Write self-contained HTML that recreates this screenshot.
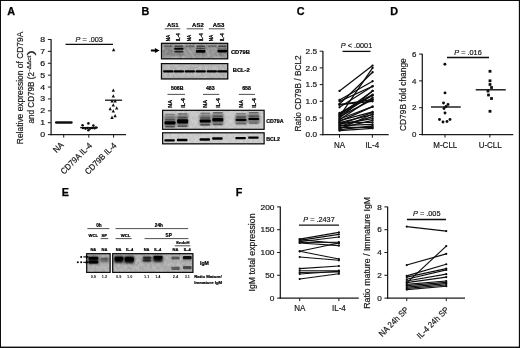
<!DOCTYPE html>
<html><head><meta charset="utf-8"><title>Figure</title>
<style>
html,body{margin:0;padding:0;background:#fff;}
body{width:520px;height:348px;overflow:hidden;position:relative;font-family:"Liberation Sans", sans-serif;}
svg{position:absolute;left:0;top:0;display:block;}
svg text{font-family:"Liberation Sans", sans-serif;}
svg text.g{stroke:#222;stroke-width:0.2px;}
svg text.b{stroke:#000;stroke-width:0.22px;}
</style></head><body>
<svg width="520" height="348" viewBox="0 0 520 348">
<defs>
<filter id="b1" x="-30%" y="-100%" width="160%" height="300%"><feGaussianBlur stdDeviation="0.65 0.5"/></filter>
<filter id="b2" x="-30%" y="-100%" width="160%" height="300%"><feGaussianBlur stdDeviation="1.3 1.1"/></filter>
<filter id="nz" x="0" y="0" width="100%" height="100%"><feTurbulence type="fractalNoise" baseFrequency="0.4 0.3" numOctaves="2" seed="7" result="t"/><feColorMatrix in="t" type="matrix" values="0 0 0 0 0  0 0 0 0 0  0 0 0 0 0  1.8 0 0 0 -0.45"/></filter>
<filter id="b3" x="-30%" y="-100%" width="160%" height="300%"><feGaussianBlur stdDeviation="0.7 0.75"/></filter>
<filter id="soft"><feGaussianBlur stdDeviation="0.38"/></filter>
<clipPath id="cb1"><rect x="160.9" y="42.7" width="67.4" height="16.7"/></clipPath><clipPath id="ce1"><rect x="86.1" y="253.1" width="24.6" height="19.9"/></clipPath><clipPath id="ce2"><rect x="112.1" y="253.1" width="81.4" height="19.9"/></clipPath><clipPath id="cb3"><rect x="162" y="109.7" width="102.7" height="20.2"/></clipPath>
</defs>
<rect x="0" y="0" width="520" height="348" fill="#fff"/>
<g filter="url(#soft)">
<text transform="translate(7.2 15.0)" font-size="10.8" text-anchor="start" font-weight="bold" font-style="normal" fill="#000" stroke="#000" stroke-width="0.25">A</text>
<text transform="translate(141.4 15.0)" font-size="10.8" text-anchor="start" font-weight="bold" font-style="normal" fill="#000" stroke="#000" stroke-width="0.25">B</text>
<text transform="translate(296.8 15.0)" font-size="10.8" text-anchor="start" font-weight="bold" font-style="normal" fill="#000" stroke="#000" stroke-width="0.25">C</text>
<text transform="translate(390.2 15.0)" font-size="10.8" text-anchor="start" font-weight="bold" font-style="normal" fill="#000" stroke="#000" stroke-width="0.25">D</text>
<text transform="translate(61.8 195.9)" font-size="10.8" text-anchor="start" font-weight="bold" font-style="normal" fill="#000" stroke="#000" stroke-width="0.25">E</text>
<text transform="translate(235.7 195.9)" font-size="10.8" text-anchor="start" font-weight="bold" font-style="normal" fill="#000" stroke="#000" stroke-width="0.25">F</text>
<line x1="51.1" y1="39.17999999999999" x2="51.1" y2="135.225" stroke="#1a1a1a" stroke-width="1.25" stroke-linecap="butt"/>
<line x1="50.475" y1="134.6" x2="126" y2="134.6" stroke="#1a1a1a" stroke-width="1.25" stroke-linecap="butt"/>
<line x1="47.9" y1="134.6" x2="51.1" y2="134.6" stroke="#1a1a1a" stroke-width="1.0" stroke-linecap="butt"/>
<text class="g" transform="translate(45.2 137.15) scale(1.17 1)" font-size="7.5" text-anchor="end" font-weight="normal" font-style="normal" fill="#111">0</text>
<line x1="47.9" y1="122.71" x2="51.1" y2="122.71" stroke="#1a1a1a" stroke-width="1.0" stroke-linecap="butt"/>
<text class="g" transform="translate(45.2 125.25999999999999) scale(1.17 1)" font-size="7.5" text-anchor="end" font-weight="normal" font-style="normal" fill="#111">1</text>
<line x1="47.9" y1="110.82" x2="51.1" y2="110.82" stroke="#1a1a1a" stroke-width="1.0" stroke-linecap="butt"/>
<text class="g" transform="translate(45.2 113.36999999999999) scale(1.17 1)" font-size="7.5" text-anchor="end" font-weight="normal" font-style="normal" fill="#111">2</text>
<line x1="47.9" y1="98.92999999999999" x2="51.1" y2="98.92999999999999" stroke="#1a1a1a" stroke-width="1.0" stroke-linecap="butt"/>
<text class="g" transform="translate(45.2 101.47999999999999) scale(1.17 1)" font-size="7.5" text-anchor="end" font-weight="normal" font-style="normal" fill="#111">3</text>
<line x1="47.9" y1="87.03999999999999" x2="51.1" y2="87.03999999999999" stroke="#1a1a1a" stroke-width="1.0" stroke-linecap="butt"/>
<text class="g" transform="translate(45.2 89.58999999999999) scale(1.17 1)" font-size="7.5" text-anchor="end" font-weight="normal" font-style="normal" fill="#111">4</text>
<line x1="47.9" y1="75.14999999999999" x2="51.1" y2="75.14999999999999" stroke="#1a1a1a" stroke-width="1.0" stroke-linecap="butt"/>
<text class="g" transform="translate(45.2 77.69999999999999) scale(1.17 1)" font-size="7.5" text-anchor="end" font-weight="normal" font-style="normal" fill="#111">5</text>
<line x1="47.9" y1="63.25999999999999" x2="51.1" y2="63.25999999999999" stroke="#1a1a1a" stroke-width="1.0" stroke-linecap="butt"/>
<text class="g" transform="translate(45.2 65.80999999999999) scale(1.17 1)" font-size="7.5" text-anchor="end" font-weight="normal" font-style="normal" fill="#111">6</text>
<line x1="47.9" y1="51.36999999999999" x2="51.1" y2="51.36999999999999" stroke="#1a1a1a" stroke-width="1.0" stroke-linecap="butt"/>
<text class="g" transform="translate(45.2 53.91999999999999) scale(1.17 1)" font-size="7.5" text-anchor="end" font-weight="normal" font-style="normal" fill="#111">7</text>
<line x1="47.9" y1="39.47999999999999" x2="51.1" y2="39.47999999999999" stroke="#1a1a1a" stroke-width="1.0" stroke-linecap="butt"/>
<text class="g" transform="translate(45.2 42.02999999999999) scale(1.17 1)" font-size="7.5" text-anchor="end" font-weight="normal" font-style="normal" fill="#111">8</text>
<line x1="63.7" y1="134.6" x2="63.7" y2="137.6" stroke="#1a1a1a" stroke-width="1.0" stroke-linecap="butt"/>
<line x1="88.8" y1="134.6" x2="88.8" y2="137.6" stroke="#1a1a1a" stroke-width="1.0" stroke-linecap="butt"/>
<line x1="113.6" y1="134.6" x2="113.6" y2="137.6" stroke="#1a1a1a" stroke-width="1.0" stroke-linecap="butt"/>
<text class="g" x="23.5" y="144.2" font-size="9.3" font-weight="normal" fill="#111" textLength="112.6" lengthAdjust="spacingAndGlyphs" transform="rotate(-90 23.5 144.2)">Relative expression of CD79A</text>
<text class="g" x="34.4" y="123.4" font-size="8.6" font-weight="normal" fill="#111" textLength="51.4" lengthAdjust="spacingAndGlyphs" transform="rotate(-90 34.4 123.4)">and CD79B (2</text>
<text class="g" x="31.1" y="71.5" font-size="4.8" font-weight="normal" fill="#111" textLength="15.7" lengthAdjust="spacingAndGlyphs" transform="rotate(-90 31.1 71.5)">-ΔΔct</text>
<text class="g" x="34.4" y="55.6" font-size="8.4" font-weight="normal" fill="#111" textLength="5.4" lengthAdjust="spacingAndGlyphs" transform="rotate(-90 34.4 55.6)">)</text>
<text class="g" transform="translate(64.3 145.6) rotate(-45) scale(0.92 1)" font-size="8.5" text-anchor="end" font-weight="normal" font-style="normal" fill="#111">NA</text>
<text class="g" transform="translate(92.6 146.1) rotate(-45) scale(0.92 1)" font-size="8.5" text-anchor="end" font-weight="normal" font-style="normal" fill="#111">CD79A IL-4</text>
<text class="g" transform="translate(117.1 146.1) rotate(-45) scale(0.92 1)" font-size="8.5" text-anchor="end" font-weight="normal" font-style="normal" fill="#111">CD79B IL-4</text>
<line x1="56.2" y1="122.6" x2="71.4" y2="122.6" stroke="#111" stroke-width="2.5" stroke-linecap="round"/>
<line x1="80.2" y1="127.6" x2="97.8" y2="127.6" stroke="#111" stroke-width="1.3" stroke-linecap="butt"/>
<circle cx="88.4" cy="123.4" r="1.3" fill="#111"/>
<circle cx="82.6" cy="125.3" r="1.3" fill="#111"/>
<circle cx="93.4" cy="125.6" r="1.3" fill="#111"/>
<circle cx="83" cy="128" r="1.3" fill="#111"/>
<circle cx="85.5" cy="128.6" r="1.3" fill="#111"/>
<circle cx="87.5" cy="128" r="1.3" fill="#111"/>
<circle cx="90" cy="128.6" r="1.3" fill="#111"/>
<circle cx="92" cy="128" r="1.3" fill="#111"/>
<circle cx="94.5" cy="128.3" r="1.3" fill="#111"/>
<circle cx="96" cy="127.6" r="1.3" fill="#111"/>
<circle cx="88.4" cy="130.3" r="1.3" fill="#111"/>
<line x1="105" y1="100.2" x2="122.1" y2="100.2" stroke="#111" stroke-width="1.3" stroke-linecap="butt"/>
<polygon points="113.6,48.02 111.94999999999999,51.32 115.25,51.32" fill="#111"/>
<polygon points="113.3,88.42 111.64999999999999,91.72 114.95,91.72" fill="#111"/>
<polygon points="113.3,94.22 111.64999999999999,97.52 114.95,97.52" fill="#111"/>
<polygon points="112,99.32 110.35,102.61999999999999 113.65,102.61999999999999" fill="#111"/>
<polygon points="115.1,99.32 113.44999999999999,102.61999999999999 116.75,102.61999999999999" fill="#111"/>
<polygon points="113.3,103.22 111.64999999999999,106.52 114.95,106.52" fill="#111"/>
<polygon points="110.2,107.02 108.55,110.32 111.85000000000001,110.32" fill="#111"/>
<polygon points="116.7,106.32 115.05,109.61999999999999 118.35000000000001,109.61999999999999" fill="#111"/>
<polygon points="113.3,109.22 111.64999999999999,112.52 114.95,112.52" fill="#111"/>
<polygon points="115.1,114.02 113.44999999999999,117.32 116.75,117.32" fill="#111"/>
<polygon points="112,115.61999999999999 110.35,118.91999999999999 113.65,118.91999999999999" fill="#111"/>
<text class="g" transform="translate(89.2 41.8)" font-size="7.3" text-anchor="middle" font-weight="normal" font-style="normal" fill="#111"><tspan font-style="italic">P</tspan> = .003</text>
<line x1="65.5" y1="44.4" x2="113" y2="44.4" stroke="#111" stroke-width="1.3" stroke-linecap="butt"/>
<line x1="322.9" y1="50.89999999999999" x2="322.9" y2="135.325" stroke="#1a1a1a" stroke-width="1.25" stroke-linecap="butt"/>
<line x1="322.275" y1="134.7" x2="388.7" y2="134.7" stroke="#1a1a1a" stroke-width="1.25" stroke-linecap="butt"/>
<line x1="319.7" y1="134.7" x2="322.9" y2="134.7" stroke="#1a1a1a" stroke-width="1.0" stroke-linecap="butt"/>
<text class="g" transform="translate(317.0 137.31799999999998) scale(1.07 1)" font-size="7.7" text-anchor="end" font-weight="normal" font-style="normal" fill="#111">0.0</text>
<line x1="319.7" y1="117.99999999999999" x2="322.9" y2="117.99999999999999" stroke="#1a1a1a" stroke-width="1.0" stroke-linecap="butt"/>
<text class="g" transform="translate(317.0 120.61799999999998) scale(1.07 1)" font-size="7.7" text-anchor="end" font-weight="normal" font-style="normal" fill="#111">0.5</text>
<line x1="319.7" y1="101.29999999999998" x2="322.9" y2="101.29999999999998" stroke="#1a1a1a" stroke-width="1.0" stroke-linecap="butt"/>
<text class="g" transform="translate(317.0 103.91799999999998) scale(1.07 1)" font-size="7.7" text-anchor="end" font-weight="normal" font-style="normal" fill="#111">1.0</text>
<line x1="319.7" y1="84.6" x2="322.9" y2="84.6" stroke="#1a1a1a" stroke-width="1.0" stroke-linecap="butt"/>
<text class="g" transform="translate(317.0 87.21799999999999) scale(1.07 1)" font-size="7.7" text-anchor="end" font-weight="normal" font-style="normal" fill="#111">1.5</text>
<line x1="319.7" y1="67.89999999999999" x2="322.9" y2="67.89999999999999" stroke="#1a1a1a" stroke-width="1.0" stroke-linecap="butt"/>
<text class="g" transform="translate(317.0 70.51799999999999) scale(1.07 1)" font-size="7.7" text-anchor="end" font-weight="normal" font-style="normal" fill="#111">2.0</text>
<line x1="319.7" y1="51.19999999999999" x2="322.9" y2="51.19999999999999" stroke="#1a1a1a" stroke-width="1.0" stroke-linecap="butt"/>
<text class="g" transform="translate(317.0 53.81799999999999) scale(1.07 1)" font-size="7.7" text-anchor="end" font-weight="normal" font-style="normal" fill="#111">2.5</text>
<line x1="339.5" y1="134.7" x2="339.5" y2="137.7" stroke="#1a1a1a" stroke-width="1.0" stroke-linecap="butt"/>
<line x1="372.4" y1="134.7" x2="372.4" y2="137.7" stroke="#1a1a1a" stroke-width="1.0" stroke-linecap="butt"/>
<text class="g" transform="translate(339.6 148.4) scale(0.91 1)" font-size="8.8" text-anchor="middle" font-weight="normal" font-style="normal" fill="#111">NA</text>
<text class="g" transform="translate(372.3 148.4) scale(0.91 1)" font-size="8.8" text-anchor="middle" font-weight="normal" font-style="normal" fill="#111">IL-4</text>
<text class="g" x="300.5" y="131.5" font-size="9.2" font-weight="normal" fill="#111" textLength="76.2" lengthAdjust="spacingAndGlyphs" transform="rotate(-90 300.5 131.5)">Ratio CD79B / BCL2</text>
<line x1="339.5" y1="90.946" x2="372.6" y2="65.562" stroke="#111" stroke-width="1.3" stroke-linecap="round"/>
<circle cx="339.5" cy="90.946" r="1.15" fill="#111"/>
<circle cx="372.6" cy="65.562" r="1.15" fill="#111"/>
<line x1="339.5" y1="116.32999999999998" x2="372.6" y2="67.89999999999999" stroke="#111" stroke-width="1.3" stroke-linecap="round"/>
<circle cx="339.5" cy="116.32999999999998" r="1.15" fill="#111"/>
<circle cx="372.6" cy="67.89999999999999" r="1.15" fill="#111"/>
<line x1="339.5" y1="103.97199999999998" x2="372.6" y2="72.24199999999999" stroke="#111" stroke-width="1.3" stroke-linecap="round"/>
<circle cx="339.5" cy="103.97199999999998" r="1.15" fill="#111"/>
<circle cx="372.6" cy="72.24199999999999" r="1.15" fill="#111"/>
<line x1="339.5" y1="99.964" x2="372.6" y2="81.25999999999999" stroke="#111" stroke-width="1.3" stroke-linecap="round"/>
<circle cx="339.5" cy="99.964" r="1.15" fill="#111"/>
<circle cx="372.6" cy="81.25999999999999" r="1.15" fill="#111"/>
<line x1="339.5" y1="107.31199999999998" x2="372.6" y2="86.26999999999998" stroke="#111" stroke-width="1.3" stroke-linecap="round"/>
<circle cx="339.5" cy="107.31199999999998" r="1.15" fill="#111"/>
<circle cx="372.6" cy="86.26999999999998" r="1.15" fill="#111"/>
<line x1="339.5" y1="114.66" x2="372.6" y2="90.946" stroke="#111" stroke-width="1.3" stroke-linecap="round"/>
<circle cx="339.5" cy="114.66" r="1.15" fill="#111"/>
<circle cx="372.6" cy="90.946" r="1.15" fill="#111"/>
<line x1="339.5" y1="117.99999999999999" x2="372.6" y2="90.946" stroke="#111" stroke-width="1.3" stroke-linecap="round"/>
<circle cx="339.5" cy="117.99999999999999" r="1.15" fill="#111"/>
<circle cx="372.6" cy="90.946" r="1.15" fill="#111"/>
<line x1="339.5" y1="113.65799999999999" x2="372.6" y2="95.28799999999998" stroke="#111" stroke-width="1.3" stroke-linecap="round"/>
<circle cx="339.5" cy="113.65799999999999" r="1.15" fill="#111"/>
<circle cx="372.6" cy="95.28799999999998" r="1.15" fill="#111"/>
<line x1="339.5" y1="104.63999999999999" x2="372.6" y2="101.29999999999998" stroke="#111" stroke-width="1.3" stroke-linecap="round"/>
<circle cx="339.5" cy="104.63999999999999" r="1.15" fill="#111"/>
<circle cx="372.6" cy="101.29999999999998" r="1.15" fill="#111"/>
<line x1="339.5" y1="119.66999999999999" x2="372.6" y2="97.62599999999998" stroke="#111" stroke-width="1.3" stroke-linecap="round"/>
<circle cx="339.5" cy="119.66999999999999" r="1.15" fill="#111"/>
<circle cx="372.6" cy="97.62599999999998" r="1.15" fill="#111"/>
<line x1="339.5" y1="104.63999999999999" x2="372.6" y2="99.63" stroke="#111" stroke-width="1.3" stroke-linecap="round"/>
<circle cx="339.5" cy="104.63999999999999" r="1.15" fill="#111"/>
<circle cx="372.6" cy="99.63" r="1.15" fill="#111"/>
<line x1="339.5" y1="121.33999999999999" x2="372.6" y2="106.64399999999999" stroke="#111" stroke-width="1.3" stroke-linecap="round"/>
<circle cx="339.5" cy="121.33999999999999" r="1.15" fill="#111"/>
<circle cx="372.6" cy="106.64399999999999" r="1.15" fill="#111"/>
<line x1="339.5" y1="124.67999999999999" x2="372.6" y2="112.32199999999999" stroke="#111" stroke-width="1.3" stroke-linecap="round"/>
<circle cx="339.5" cy="124.67999999999999" r="1.15" fill="#111"/>
<circle cx="372.6" cy="112.32199999999999" r="1.15" fill="#111"/>
<line x1="339.5" y1="122.67599999999999" x2="372.6" y2="114.66" stroke="#111" stroke-width="1.3" stroke-linecap="round"/>
<circle cx="339.5" cy="122.67599999999999" r="1.15" fill="#111"/>
<circle cx="372.6" cy="114.66" r="1.15" fill="#111"/>
<line x1="339.5" y1="126.35" x2="372.6" y2="116.66399999999999" stroke="#111" stroke-width="1.3" stroke-linecap="round"/>
<circle cx="339.5" cy="126.35" r="1.15" fill="#111"/>
<circle cx="372.6" cy="116.66399999999999" r="1.15" fill="#111"/>
<line x1="339.5" y1="124.01199999999999" x2="372.6" y2="118.66799999999999" stroke="#111" stroke-width="1.3" stroke-linecap="round"/>
<circle cx="339.5" cy="124.01199999999999" r="1.15" fill="#111"/>
<circle cx="372.6" cy="118.66799999999999" r="1.15" fill="#111"/>
<line x1="339.5" y1="128.01999999999998" x2="372.6" y2="120.338" stroke="#111" stroke-width="1.3" stroke-linecap="round"/>
<circle cx="339.5" cy="128.01999999999998" r="1.15" fill="#111"/>
<circle cx="372.6" cy="120.338" r="1.15" fill="#111"/>
<line x1="339.5" y1="122.67599999999999" x2="372.6" y2="122.34199999999998" stroke="#111" stroke-width="1.3" stroke-linecap="round"/>
<circle cx="339.5" cy="122.67599999999999" r="1.15" fill="#111"/>
<circle cx="372.6" cy="122.34199999999998" r="1.15" fill="#111"/>
<line x1="339.5" y1="125.68199999999999" x2="372.6" y2="124.34599999999999" stroke="#111" stroke-width="1.3" stroke-linecap="round"/>
<circle cx="339.5" cy="125.68199999999999" r="1.15" fill="#111"/>
<circle cx="372.6" cy="124.34599999999999" r="1.15" fill="#111"/>
<line x1="339.5" y1="129.69" x2="372.6" y2="126.01599999999999" stroke="#111" stroke-width="1.3" stroke-linecap="round"/>
<circle cx="339.5" cy="129.69" r="1.15" fill="#111"/>
<circle cx="372.6" cy="126.01599999999999" r="1.15" fill="#111"/>
<line x1="339.5" y1="127.35199999999999" x2="372.6" y2="127.35199999999999" stroke="#111" stroke-width="1.3" stroke-linecap="round"/>
<circle cx="339.5" cy="127.35199999999999" r="1.15" fill="#111"/>
<circle cx="372.6" cy="127.35199999999999" r="1.15" fill="#111"/>
<line x1="339.5" y1="130.69199999999998" x2="372.6" y2="128.35399999999998" stroke="#111" stroke-width="1.3" stroke-linecap="round"/>
<circle cx="339.5" cy="130.69199999999998" r="1.15" fill="#111"/>
<circle cx="372.6" cy="128.35399999999998" r="1.15" fill="#111"/>
<line x1="339.5" y1="112.98999999999998" x2="372.6" y2="94.61999999999999" stroke="#111" stroke-width="1.3" stroke-linecap="round"/>
<circle cx="339.5" cy="112.98999999999998" r="1.15" fill="#111"/>
<circle cx="372.6" cy="94.61999999999999" r="1.15" fill="#111"/>
<line x1="339.5" y1="101.29999999999998" x2="372.6" y2="86.26999999999998" stroke="#111" stroke-width="1.3" stroke-linecap="round"/>
<circle cx="339.5" cy="101.29999999999998" r="1.15" fill="#111"/>
<circle cx="372.6" cy="86.26999999999998" r="1.15" fill="#111"/>
<line x1="339.5" y1="129.022" x2="372.6" y2="113.99199999999999" stroke="#111" stroke-width="1.3" stroke-linecap="round"/>
<circle cx="339.5" cy="129.022" r="1.15" fill="#111"/>
<circle cx="372.6" cy="113.99199999999999" r="1.15" fill="#111"/>
<line x1="339.5" y1="120.672" x2="372.6" y2="111.98799999999999" stroke="#111" stroke-width="1.3" stroke-linecap="round"/>
<circle cx="339.5" cy="120.672" r="1.15" fill="#111"/>
<circle cx="372.6" cy="111.98799999999999" r="1.15" fill="#111"/>
<line x1="339.5" y1="116.66399999999999" x2="372.6" y2="99.63" stroke="#111" stroke-width="1.3" stroke-linecap="round"/>
<circle cx="339.5" cy="116.66399999999999" r="1.15" fill="#111"/>
<circle cx="372.6" cy="99.63" r="1.15" fill="#111"/>
<line x1="339.5" y1="115.32799999999999" x2="372.6" y2="95.28799999999998" stroke="#111" stroke-width="1.3" stroke-linecap="round"/>
<circle cx="339.5" cy="115.32799999999999" r="1.15" fill="#111"/>
<circle cx="372.6" cy="95.28799999999998" r="1.15" fill="#111"/>
<line x1="339.5" y1="119.002" x2="372.6" y2="106.64399999999999" stroke="#111" stroke-width="1.3" stroke-linecap="round"/>
<circle cx="339.5" cy="119.002" r="1.15" fill="#111"/>
<circle cx="372.6" cy="106.64399999999999" r="1.15" fill="#111"/>
<text class="g" transform="translate(356.5 48.3)" font-size="7.3" text-anchor="middle" font-weight="normal" font-style="normal" fill="#111"><tspan font-style="italic">P</tspan> &lt; .0001</text>
<line x1="342.5" y1="51.4" x2="370.5" y2="51.4" stroke="#111" stroke-width="1.3" stroke-linecap="butt"/>
<line x1="422.3" y1="53.8" x2="422.3" y2="135.125" stroke="#1a1a1a" stroke-width="1.25" stroke-linecap="butt"/>
<line x1="421.675" y1="134.5" x2="513.3" y2="134.5" stroke="#1a1a1a" stroke-width="1.25" stroke-linecap="butt"/>
<line x1="419.1" y1="134.5" x2="422.3" y2="134.5" stroke="#1a1a1a" stroke-width="1.0" stroke-linecap="butt"/>
<text class="g" transform="translate(416.40000000000003 137.254) scale(0.98 1)" font-size="8.1" text-anchor="end" font-weight="normal" font-style="normal" fill="#111">0</text>
<line x1="419.1" y1="107.7" x2="422.3" y2="107.7" stroke="#1a1a1a" stroke-width="1.0" stroke-linecap="butt"/>
<text class="g" transform="translate(416.40000000000003 110.45400000000001) scale(0.98 1)" font-size="8.1" text-anchor="end" font-weight="normal" font-style="normal" fill="#111">2</text>
<line x1="419.1" y1="80.9" x2="422.3" y2="80.9" stroke="#1a1a1a" stroke-width="1.0" stroke-linecap="butt"/>
<text class="g" transform="translate(416.40000000000003 83.65400000000001) scale(0.98 1)" font-size="8.1" text-anchor="end" font-weight="normal" font-style="normal" fill="#111">4</text>
<line x1="419.1" y1="54.099999999999994" x2="422.3" y2="54.099999999999994" stroke="#1a1a1a" stroke-width="1.0" stroke-linecap="butt"/>
<text class="g" transform="translate(416.40000000000003 56.85399999999999) scale(0.98 1)" font-size="8.1" text-anchor="end" font-weight="normal" font-style="normal" fill="#111">6</text>
<line x1="445" y1="134.5" x2="445" y2="137.5" stroke="#1a1a1a" stroke-width="1.0" stroke-linecap="butt"/>
<line x1="489.9" y1="134.5" x2="489.9" y2="137.5" stroke="#1a1a1a" stroke-width="1.0" stroke-linecap="butt"/>
<text class="g" transform="translate(445.3 148.3) scale(0.9 1)" font-size="8.9" text-anchor="middle" font-weight="normal" font-style="normal" fill="#111">M-CLL</text>
<text class="g" transform="translate(490.2 148.3) scale(0.9 1)" font-size="8.9" text-anchor="middle" font-weight="normal" font-style="normal" fill="#111">U-CLL</text>
<text class="g" x="405.8" y="131.1" font-size="9.1" font-weight="normal" fill="#111" textLength="72.9" lengthAdjust="spacingAndGlyphs" transform="rotate(-90 405.8 131.1)">CD79B fold change</text>
<line x1="431" y1="107" x2="460.75" y2="107" stroke="#111" stroke-width="1.4" stroke-linecap="butt"/>
<line x1="475.75" y1="89.8" x2="505.75" y2="89.8" stroke="#111" stroke-width="1.4" stroke-linecap="butt"/>
<circle cx="444.9" cy="64.2" r="1.45" fill="#111"/>
<circle cx="445" cy="92.9" r="1.45" fill="#111"/>
<circle cx="443.5" cy="103" r="1.45" fill="#111"/>
<circle cx="448" cy="104.5" r="1.45" fill="#111"/>
<circle cx="446" cy="106.5" r="1.45" fill="#111"/>
<circle cx="444" cy="108.5" r="1.45" fill="#111"/>
<circle cx="445" cy="113" r="1.45" fill="#111"/>
<circle cx="439.5" cy="119.5" r="1.45" fill="#111"/>
<circle cx="450" cy="119.5" r="1.45" fill="#111"/>
<circle cx="443" cy="122" r="1.45" fill="#111"/>
<circle cx="447" cy="121.5" r="1.45" fill="#111"/>
<rect x="488.6" y="69.89999999999999" width="2.8" height="2.8" fill="#111"/>
<rect x="488.6" y="79.39999999999999" width="2.8" height="2.8" fill="#111"/>
<rect x="488.6" y="83.1" width="2.8" height="2.8" fill="#111"/>
<rect x="490.1" y="86.1" width="2.8" height="2.8" fill="#111"/>
<rect x="486.6" y="89.6" width="2.8" height="2.8" fill="#111"/>
<rect x="487.1" y="93.6" width="2.8" height="2.8" fill="#111"/>
<rect x="490.1" y="97.1" width="2.8" height="2.8" fill="#111"/>
<rect x="488.6" y="109.89999999999999" width="2.8" height="2.8" fill="#111"/>
<text class="g" transform="translate(468 54.6)" font-size="7.3" text-anchor="middle" font-weight="normal" font-style="normal" fill="#111"><tspan font-style="italic">P</tspan> = .016</text>
<line x1="447" y1="57.5" x2="489" y2="57.5" stroke="#111" stroke-width="1.3" stroke-linecap="butt"/>
<line x1="280.3" y1="206.60000000000002" x2="280.3" y2="298.725" stroke="#1a1a1a" stroke-width="1.25" stroke-linecap="butt"/>
<line x1="279.675" y1="298.1" x2="358.75" y2="298.1" stroke="#1a1a1a" stroke-width="1.25" stroke-linecap="butt"/>
<line x1="277.1" y1="298.1" x2="280.3" y2="298.1" stroke="#1a1a1a" stroke-width="1.0" stroke-linecap="butt"/>
<text class="g" transform="translate(274.40000000000003 300.752) scale(1.07 1)" font-size="7.8" text-anchor="end" font-weight="normal" font-style="normal" fill="#111">0</text>
<line x1="277.1" y1="275.3" x2="280.3" y2="275.3" stroke="#1a1a1a" stroke-width="1.0" stroke-linecap="butt"/>
<text class="g" transform="translate(274.40000000000003 277.952) scale(1.07 1)" font-size="7.8" text-anchor="end" font-weight="normal" font-style="normal" fill="#111">50</text>
<line x1="277.1" y1="252.50000000000003" x2="280.3" y2="252.50000000000003" stroke="#1a1a1a" stroke-width="1.0" stroke-linecap="butt"/>
<text class="g" transform="translate(274.40000000000003 255.15200000000002) scale(1.07 1)" font-size="7.8" text-anchor="end" font-weight="normal" font-style="normal" fill="#111">100</text>
<line x1="277.1" y1="229.70000000000002" x2="280.3" y2="229.70000000000002" stroke="#1a1a1a" stroke-width="1.0" stroke-linecap="butt"/>
<text class="g" transform="translate(274.40000000000003 232.352) scale(1.07 1)" font-size="7.8" text-anchor="end" font-weight="normal" font-style="normal" fill="#111">150</text>
<line x1="277.1" y1="206.90000000000003" x2="280.3" y2="206.90000000000003" stroke="#1a1a1a" stroke-width="1.0" stroke-linecap="butt"/>
<text class="g" transform="translate(274.40000000000003 209.55200000000002) scale(1.07 1)" font-size="7.8" text-anchor="end" font-weight="normal" font-style="normal" fill="#111">200</text>
<line x1="299.7" y1="298.1" x2="299.7" y2="301.1" stroke="#1a1a1a" stroke-width="1.0" stroke-linecap="butt"/>
<line x1="338.9" y1="298.1" x2="338.9" y2="301.1" stroke="#1a1a1a" stroke-width="1.0" stroke-linecap="butt"/>
<text class="g" transform="translate(299.7 311.2) scale(0.91 1)" font-size="8.8" text-anchor="middle" font-weight="normal" font-style="normal" fill="#111">NA</text>
<text class="g" transform="translate(338.9 311.2) scale(0.91 1)" font-size="8.8" text-anchor="middle" font-weight="normal" font-style="normal" fill="#111">IL-4</text>
<text class="g" x="254.8" y="291.5" font-size="9.0" font-weight="normal" fill="#111" textLength="78.0" lengthAdjust="spacingAndGlyphs" transform="rotate(-90 254.8 291.5)">IgM total expression</text>
<line x1="299.7" y1="239.1" x2="338.9" y2="232.4" stroke="#111" stroke-width="1.15" stroke-linecap="round"/>
<circle cx="299.7" cy="239.1" r="1.1" fill="#111"/>
<circle cx="338.9" cy="232.4" r="1.1" fill="#111"/>
<line x1="299.7" y1="240.4" x2="338.9" y2="234.4" stroke="#111" stroke-width="1.15" stroke-linecap="round"/>
<circle cx="299.7" cy="240.4" r="1.1" fill="#111"/>
<circle cx="338.9" cy="234.4" r="1.1" fill="#111"/>
<line x1="299.7" y1="241.7" x2="338.9" y2="237" stroke="#111" stroke-width="1.15" stroke-linecap="round"/>
<circle cx="299.7" cy="241.7" r="1.1" fill="#111"/>
<circle cx="338.9" cy="237" r="1.1" fill="#111"/>
<line x1="299.7" y1="243" x2="338.9" y2="245.6" stroke="#111" stroke-width="1.15" stroke-linecap="round"/>
<circle cx="299.7" cy="243" r="1.1" fill="#111"/>
<circle cx="338.9" cy="245.6" r="1.1" fill="#111"/>
<line x1="299.7" y1="239.6" x2="338.9" y2="243.5" stroke="#111" stroke-width="1.15" stroke-linecap="round"/>
<circle cx="299.7" cy="239.6" r="1.1" fill="#111"/>
<circle cx="338.9" cy="243.5" r="1.1" fill="#111"/>
<line x1="299.7" y1="242.5" x2="338.9" y2="242.2" stroke="#111" stroke-width="1.15" stroke-linecap="round"/>
<circle cx="299.7" cy="242.5" r="1.1" fill="#111"/>
<circle cx="338.9" cy="242.2" r="1.1" fill="#111"/>
<line x1="299.7" y1="251.3" x2="338.9" y2="243" stroke="#111" stroke-width="1.15" stroke-linecap="round"/>
<circle cx="299.7" cy="251.3" r="1.1" fill="#111"/>
<circle cx="338.9" cy="243" r="1.1" fill="#111"/>
<line x1="299.7" y1="251.3" x2="338.9" y2="259" stroke="#111" stroke-width="1.15" stroke-linecap="round"/>
<circle cx="299.7" cy="251.3" r="1.1" fill="#111"/>
<circle cx="338.9" cy="259" r="1.1" fill="#111"/>
<line x1="299.7" y1="257" x2="338.9" y2="260.3" stroke="#111" stroke-width="1.15" stroke-linecap="round"/>
<circle cx="299.7" cy="257" r="1.1" fill="#111"/>
<circle cx="338.9" cy="260.3" r="1.1" fill="#111"/>
<line x1="299.7" y1="268.6" x2="338.9" y2="266" stroke="#111" stroke-width="1.15" stroke-linecap="round"/>
<circle cx="299.7" cy="268.6" r="1.1" fill="#111"/>
<circle cx="338.9" cy="266" r="1.1" fill="#111"/>
<line x1="299.7" y1="270.7" x2="338.9" y2="270.7" stroke="#111" stroke-width="1.15" stroke-linecap="round"/>
<circle cx="299.7" cy="270.7" r="1.1" fill="#111"/>
<circle cx="338.9" cy="270.7" r="1.1" fill="#111"/>
<line x1="299.7" y1="272.5" x2="338.9" y2="272" stroke="#111" stroke-width="1.15" stroke-linecap="round"/>
<circle cx="299.7" cy="272.5" r="1.1" fill="#111"/>
<circle cx="338.9" cy="272" r="1.1" fill="#111"/>
<line x1="299.7" y1="274" x2="338.9" y2="271.3" stroke="#111" stroke-width="1.15" stroke-linecap="round"/>
<circle cx="299.7" cy="274" r="1.1" fill="#111"/>
<circle cx="338.9" cy="271.3" r="1.1" fill="#111"/>
<line x1="299.7" y1="279" x2="338.9" y2="273.8" stroke="#111" stroke-width="1.15" stroke-linecap="round"/>
<circle cx="299.7" cy="279" r="1.1" fill="#111"/>
<circle cx="338.9" cy="273.8" r="1.1" fill="#111"/>
<text class="g" transform="translate(319 222)" font-size="7.3" text-anchor="middle" font-weight="normal" font-style="normal" fill="#111"><tspan font-style="italic">P</tspan> = .2437</text>
<line x1="299" y1="225.2" x2="339" y2="225.2" stroke="#111" stroke-width="1.3" stroke-linecap="butt"/>
<line x1="387.6" y1="206.60000000000002" x2="387.6" y2="298.725" stroke="#1a1a1a" stroke-width="1.25" stroke-linecap="butt"/>
<line x1="386.975" y1="298.1" x2="465" y2="298.1" stroke="#1a1a1a" stroke-width="1.25" stroke-linecap="butt"/>
<line x1="384.40000000000003" y1="298.1" x2="387.6" y2="298.1" stroke="#1a1a1a" stroke-width="1.0" stroke-linecap="butt"/>
<text class="g" transform="translate(381.70000000000005 300.752) scale(1.05 1)" font-size="7.8" text-anchor="end" font-weight="normal" font-style="normal" fill="#111">0</text>
<line x1="384.40000000000003" y1="275.3" x2="387.6" y2="275.3" stroke="#1a1a1a" stroke-width="1.0" stroke-linecap="butt"/>
<text class="g" transform="translate(381.70000000000005 277.952) scale(1.05 1)" font-size="7.8" text-anchor="end" font-weight="normal" font-style="normal" fill="#111">2</text>
<line x1="384.40000000000003" y1="252.50000000000003" x2="387.6" y2="252.50000000000003" stroke="#1a1a1a" stroke-width="1.0" stroke-linecap="butt"/>
<text class="g" transform="translate(381.70000000000005 255.15200000000002) scale(1.05 1)" font-size="7.8" text-anchor="end" font-weight="normal" font-style="normal" fill="#111">4</text>
<line x1="384.40000000000003" y1="229.70000000000002" x2="387.6" y2="229.70000000000002" stroke="#1a1a1a" stroke-width="1.0" stroke-linecap="butt"/>
<text class="g" transform="translate(381.70000000000005 232.352) scale(1.05 1)" font-size="7.8" text-anchor="end" font-weight="normal" font-style="normal" fill="#111">6</text>
<line x1="384.40000000000003" y1="206.90000000000003" x2="387.6" y2="206.90000000000003" stroke="#1a1a1a" stroke-width="1.0" stroke-linecap="butt"/>
<text class="g" transform="translate(381.70000000000005 209.55200000000002) scale(1.05 1)" font-size="7.8" text-anchor="end" font-weight="normal" font-style="normal" fill="#111">8</text>
<line x1="406.75" y1="298.1" x2="406.75" y2="301.1" stroke="#1a1a1a" stroke-width="1.0" stroke-linecap="butt"/>
<line x1="446.25" y1="298.1" x2="446.25" y2="301.1" stroke="#1a1a1a" stroke-width="1.0" stroke-linecap="butt"/>
<text class="g" x="370.3" y="308.8" font-size="9.2" font-weight="normal" fill="#111" textLength="112.0" lengthAdjust="spacingAndGlyphs" transform="rotate(-90 370.3 308.8)">Ratio mature / Immature IgM</text>
<text class="g" transform="translate(409.1 310.3) rotate(-45) scale(0.915 1)" font-size="8.5" text-anchor="end" font-weight="normal" font-style="normal" fill="#111">NA 24h SP</text>
<text class="g" transform="translate(449.3 310.3) rotate(-45) scale(0.915 1)" font-size="8.5" text-anchor="end" font-weight="normal" font-style="normal" fill="#111">IL-4 24h SP</text>
<line x1="406.75" y1="226.622" x2="446.25" y2="231.06800000000004" stroke="#111" stroke-width="1.2" stroke-linecap="round"/>
<circle cx="406.75" cy="226.622" r="1.1" fill="#111"/>
<circle cx="446.25" cy="231.06800000000004" r="1.1" fill="#111"/>
<line x1="406.75" y1="265.04" x2="446.25" y2="253.86800000000002" stroke="#111" stroke-width="1.2" stroke-linecap="round"/>
<circle cx="406.75" cy="265.04" r="1.1" fill="#111"/>
<circle cx="446.25" cy="253.86800000000002" r="1.1" fill="#111"/>
<line x1="406.75" y1="282.824" x2="446.25" y2="246.11600000000004" stroke="#111" stroke-width="1.2" stroke-linecap="round"/>
<circle cx="406.75" cy="282.824" r="1.1" fill="#111"/>
<circle cx="446.25" cy="246.11600000000004" r="1.1" fill="#111"/>
<line x1="406.75" y1="275.87" x2="446.25" y2="264.242" stroke="#111" stroke-width="1.2" stroke-linecap="round"/>
<circle cx="406.75" cy="275.87" r="1.1" fill="#111"/>
<circle cx="446.25" cy="264.242" r="1.1" fill="#111"/>
<line x1="406.75" y1="277.124" x2="446.25" y2="268.574" stroke="#111" stroke-width="1.2" stroke-linecap="round"/>
<circle cx="406.75" cy="277.124" r="1.1" fill="#111"/>
<circle cx="446.25" cy="268.574" r="1.1" fill="#111"/>
<line x1="406.75" y1="279.29" x2="446.25" y2="269.942" stroke="#111" stroke-width="1.2" stroke-linecap="round"/>
<circle cx="406.75" cy="279.29" r="1.1" fill="#111"/>
<circle cx="446.25" cy="269.942" r="1.1" fill="#111"/>
<line x1="406.75" y1="281.0" x2="446.25" y2="274.16" stroke="#111" stroke-width="1.2" stroke-linecap="round"/>
<circle cx="406.75" cy="281.0" r="1.1" fill="#111"/>
<circle cx="446.25" cy="274.16" r="1.1" fill="#111"/>
<line x1="406.75" y1="282.596" x2="446.25" y2="277.124" stroke="#111" stroke-width="1.2" stroke-linecap="round"/>
<circle cx="406.75" cy="282.596" r="1.1" fill="#111"/>
<circle cx="446.25" cy="277.124" r="1.1" fill="#111"/>
<line x1="406.75" y1="284.42" x2="446.25" y2="281.0" stroke="#111" stroke-width="1.2" stroke-linecap="round"/>
<circle cx="406.75" cy="284.42" r="1.1" fill="#111"/>
<circle cx="446.25" cy="281.0" r="1.1" fill="#111"/>
<line x1="406.75" y1="285.56" x2="446.25" y2="282.36800000000005" stroke="#111" stroke-width="1.2" stroke-linecap="round"/>
<circle cx="406.75" cy="285.56" r="1.1" fill="#111"/>
<circle cx="446.25" cy="282.36800000000005" r="1.1" fill="#111"/>
<line x1="406.75" y1="287.04200000000003" x2="446.25" y2="283.622" stroke="#111" stroke-width="1.2" stroke-linecap="round"/>
<circle cx="406.75" cy="287.04200000000003" r="1.1" fill="#111"/>
<circle cx="446.25" cy="283.622" r="1.1" fill="#111"/>
<line x1="406.75" y1="288.29600000000005" x2="446.25" y2="284.99" stroke="#111" stroke-width="1.2" stroke-linecap="round"/>
<circle cx="406.75" cy="288.29600000000005" r="1.1" fill="#111"/>
<circle cx="446.25" cy="284.99" r="1.1" fill="#111"/>
<line x1="406.75" y1="289.55" x2="446.25" y2="286.244" stroke="#111" stroke-width="1.2" stroke-linecap="round"/>
<circle cx="406.75" cy="289.55" r="1.1" fill="#111"/>
<circle cx="446.25" cy="286.244" r="1.1" fill="#111"/>
<text class="g" transform="translate(426.8 216.2)" font-size="7.3" text-anchor="middle" font-weight="normal" font-style="normal" fill="#111"><tspan font-style="italic">P</tspan> = .005</text>
<line x1="407" y1="219.5" x2="446" y2="219.5" stroke="#111" stroke-width="1.3" stroke-linecap="butt"/>
<text class="b" transform="translate(172.8 27.1)" font-size="6.0" text-anchor="middle" font-weight="bold" font-style="normal" fill="#000">AS1</text>
<line x1="164.7" y1="28.8" x2="180.3" y2="28.8" stroke="#222" stroke-width="0.8" stroke-linecap="butt"/>
<text class="b" transform="translate(197.9 27.1)" font-size="6.0" text-anchor="middle" font-weight="bold" font-style="normal" fill="#000">AS2</text>
<line x1="186.7" y1="28.8" x2="203.3" y2="28.8" stroke="#222" stroke-width="0.8" stroke-linecap="butt"/>
<text class="b" transform="translate(218.5 27.1)" font-size="6.0" text-anchor="middle" font-weight="bold" font-style="normal" fill="#000">AS3</text>
<line x1="208.8" y1="28.8" x2="224.7" y2="28.8" stroke="#222" stroke-width="0.8" stroke-linecap="butt"/>
<text class="b" transform="translate(169.5 41.3) rotate(-90)" font-size="4.5" text-anchor="start" font-weight="bold" font-style="normal" fill="#000">NA</text>
<text class="b" transform="translate(180.2 41.3) rotate(-90)" font-size="4.5" text-anchor="start" font-weight="bold" font-style="normal" fill="#000">IL-4</text>
<text class="b" transform="translate(191.1 41.3) rotate(-90)" font-size="4.5" text-anchor="start" font-weight="bold" font-style="normal" fill="#000">NA</text>
<text class="b" transform="translate(202.7 41.3) rotate(-90)" font-size="4.5" text-anchor="start" font-weight="bold" font-style="normal" fill="#000">IL-4</text>
<text class="b" transform="translate(213.1 41.3) rotate(-90)" font-size="4.5" text-anchor="start" font-weight="bold" font-style="normal" fill="#000">NA</text>
<text class="b" transform="translate(223.5 41.3) rotate(-90)" font-size="4.5" text-anchor="start" font-weight="bold" font-style="normal" fill="#000">IL-4</text>
<g clip-path="url(#cb1)">
<rect x="160.9" y="42.7" width="67.40" height="16.70" fill="#b2b2b2"/>
<rect x="160.9" y="42.7" width="67.40" height="16.70" filter="url(#nz)" opacity="0.22"/>
<rect x="163.55" y="45.00" width="9.5" height="11" rx="1" fill="#000" opacity="0.16" filter="url(#b2)"/>
<rect x="174.05" y="45.00" width="9.5" height="11" rx="1" fill="#000" opacity="0.16" filter="url(#b2)"/>
<rect x="185.05" y="45.00" width="9.5" height="11" rx="1" fill="#000" opacity="0.16" filter="url(#b2)"/>
<rect x="195.95" y="45.00" width="9.5" height="11" rx="1" fill="#000" opacity="0.16" filter="url(#b2)"/>
<rect x="207.05" y="45.00" width="9.5" height="11" rx="1" fill="#000" opacity="0.16" filter="url(#b2)"/>
<rect x="217.55" y="45.00" width="9.5" height="11" rx="1" fill="#000" opacity="0.16" filter="url(#b2)"/>
<rect x="163.90" y="45.40" width="8.8" height="1.6" rx="0.8" fill="#000" opacity="0.28" filter="url(#b1)"/>
<rect x="174.40" y="45.40" width="8.8" height="1.6" rx="0.8" fill="#000" opacity="0.5" filter="url(#b1)"/>
<rect x="185.40" y="45.40" width="8.8" height="1.6" rx="0.8" fill="#000" opacity="0.28" filter="url(#b1)"/>
<rect x="196.30" y="45.40" width="8.8" height="1.6" rx="0.8" fill="#000" opacity="0.5" filter="url(#b1)"/>
<rect x="207.40" y="45.40" width="8.8" height="1.6" rx="0.8" fill="#000" opacity="0.28" filter="url(#b1)"/>
<rect x="217.90" y="45.40" width="8.8" height="1.6" rx="0.8" fill="#000" opacity="0.5" filter="url(#b1)"/>
<rect x="174.10" y="47.70" width="9.4" height="2.0" rx="1.0" fill="#000" opacity="0.95" filter="url(#b1)"/>
<rect x="174.20" y="50.65" width="9.2" height="1.9" rx="0.95" fill="#000" opacity="0.75" filter="url(#b1)"/>
<rect x="196.20" y="47.65" width="9" height="1.5" rx="0.75" fill="#000" opacity="0.5" filter="url(#b1)"/>
<rect x="195.90" y="50.10" width="9.6" height="2.6" rx="1" fill="#000" opacity="1.0" filter="url(#b1)"/>
<rect x="217.80" y="47.70" width="9" height="1.4" rx="0.7" fill="#000" opacity="0.22" filter="url(#b1)"/>
<rect x="217.50" y="49.80" width="9.6" height="2.6" rx="1" fill="#000" opacity="1.0" filter="url(#b1)"/>
<rect x="185.3" y="48" width="9" height="8" fill="#fff" opacity="0.16" filter="url(#b2)"/>
<rect x="207.3" y="48" width="9" height="8" fill="#fff" opacity="0.16" filter="url(#b2)"/>
</g>
<rect x="161.5" y="43.300000000000004" width="66.20" height="15.50" fill="none" stroke="#0a0a0a" stroke-width="1.2"/>
<polygon points="150.9,49.45 154.9,49.45 154.9,47.9 159.6,50.5 154.9,53.1 154.9,51.55 150.9,51.55" fill="#000"/>
<text class="b" transform="translate(230.9 54)" font-size="5.8" text-anchor="start" font-weight="bold" font-style="normal" fill="#000">CD79B</text>
<rect x="160.9" y="63" width="67.40" height="16.50" fill="#c0c0c0"/>
<rect x="160.9" y="63" width="67.40" height="16.50" filter="url(#nz)" opacity="0.12"/>
<rect x="163.10" y="70.20" width="10.4" height="2.4" rx="1" fill="#000" opacity="1.0" filter="url(#b1)"/>
<rect x="173.60" y="70.20" width="10.4" height="2.4" rx="1" fill="#000" opacity="1.0" filter="url(#b1)"/>
<rect x="184.60" y="70.20" width="10.4" height="2.4" rx="1" fill="#000" opacity="1.0" filter="url(#b1)"/>
<rect x="195.50" y="70.20" width="10.4" height="2.4" rx="1" fill="#000" opacity="1.0" filter="url(#b1)"/>
<rect x="206.60" y="70.20" width="10.4" height="2.4" rx="1" fill="#000" opacity="1.0" filter="url(#b1)"/>
<rect x="217.10" y="70.20" width="10.4" height="2.4" rx="1" fill="#000" opacity="1.0" filter="url(#b1)"/>
<line x1="189" y1="68.5" x2="198" y2="67.3" stroke="#999" stroke-width="0.6" stroke-linecap="butt"/>
<rect x="161.5" y="63.6" width="66.20" height="15.30" fill="none" stroke="#0a0a0a" stroke-width="1.2"/>
<text class="b" transform="translate(232.7 72.1)" font-size="5.8" text-anchor="start" font-weight="bold" font-style="normal" fill="#000">BCL-2</text>
<text class="b" transform="translate(177.3 90.2)" font-size="5.2" text-anchor="middle" font-weight="bold" font-style="normal" fill="#000">506B</text>
<line x1="167.5" y1="94.4" x2="185" y2="94.4" stroke="#222" stroke-width="0.8" stroke-linecap="butt"/>
<text class="b" transform="translate(210.3 90.2)" font-size="5.2" text-anchor="middle" font-weight="bold" font-style="normal" fill="#000">483</text>
<line x1="203" y1="94.4" x2="219.25" y2="94.4" stroke="#222" stroke-width="0.8" stroke-linecap="butt"/>
<text class="b" transform="translate(246.5 90.2)" font-size="5.2" text-anchor="middle" font-weight="bold" font-style="normal" fill="#000">658</text>
<line x1="238.75" y1="94.4" x2="255" y2="94.4" stroke="#222" stroke-width="0.8" stroke-linecap="butt"/>
<text class="b" transform="translate(171.9 107.7) rotate(-90)" font-size="5.3" text-anchor="start" font-weight="bold" font-style="normal" fill="#000">NA</text>
<text class="b" transform="translate(184.5 107.7) rotate(-90)" font-size="5.3" text-anchor="start" font-weight="bold" font-style="normal" fill="#000">IL-4</text>
<text class="b" transform="translate(207.1 107.7) rotate(-90)" font-size="5.3" text-anchor="start" font-weight="bold" font-style="normal" fill="#000">NA</text>
<text class="b" transform="translate(219.70000000000002 107.7) rotate(-90)" font-size="5.3" text-anchor="start" font-weight="bold" font-style="normal" fill="#000">IL-4</text>
<text class="b" transform="translate(242.9 107.7) rotate(-90)" font-size="5.3" text-anchor="start" font-weight="bold" font-style="normal" fill="#000">NA</text>
<text class="b" transform="translate(255.70000000000002 107.7) rotate(-90)" font-size="5.3" text-anchor="start" font-weight="bold" font-style="normal" fill="#000">IL-4</text>
<g clip-path="url(#cb3)">
<rect x="162" y="109.7" width="102.70" height="20.20" fill="#d0d0d0"/>
<rect x="162" y="109.7" width="102.70" height="20.20" filter="url(#nz)" opacity="0.09"/>
<rect x="164.25" y="115.25" width="11.5" height="11.899999999999991" rx="1" fill="#000" opacity="0.42" filter="url(#b2)"/>
<rect x="165.00" y="113.70" width="10" height="1.4" rx="0.7" fill="#000" opacity="0.3" filter="url(#b3)"/>
<rect x="164.75" y="118.90" width="10.5" height="1.6" rx="0.8" fill="#000" opacity="0.3" filter="url(#b3)"/>
<rect x="164.50" y="121.30" width="11" height="3.2" rx="1" fill="#000" opacity="1.0" filter="url(#b3)"/>
<rect x="165.00" y="126.00" width="10" height="1.6" rx="0.8" fill="#000" opacity="0.45" filter="url(#b3)"/>
<rect x="176.85" y="114.75" width="11.5" height="11.799999999999997" rx="1" fill="#000" opacity="0.42" filter="url(#b2)"/>
<rect x="177.60" y="113.20" width="10" height="1.4" rx="0.7" fill="#000" opacity="0.45" filter="url(#b3)"/>
<rect x="177.35" y="116.80" width="10.5" height="1.6" rx="0.8" fill="#000" opacity="0.3" filter="url(#b3)"/>
<rect x="177.10" y="119.20" width="11" height="4.4" rx="1" fill="#000" opacity="1.0" filter="url(#b3)"/>
<rect x="177.60" y="125.40" width="10" height="1.6" rx="0.8" fill="#000" opacity="0.45" filter="url(#b3)"/>
<rect x="199.45" y="114.15" width="11.5" height="11.100000000000009" rx="1" fill="#000" opacity="0.42" filter="url(#b2)"/>
<rect x="200.20" y="112.60" width="10" height="1.4" rx="0.7" fill="#000" opacity="0.3" filter="url(#b3)"/>
<rect x="199.95" y="117.20" width="10.5" height="1.6" rx="0.8" fill="#000" opacity="0.3" filter="url(#b3)"/>
<rect x="199.70" y="119.60" width="11" height="2.8" rx="1" fill="#000" opacity="1.0" filter="url(#b3)"/>
<rect x="200.20" y="124.10" width="10" height="1.6" rx="0.8" fill="#000" opacity="0.45" filter="url(#b3)"/>
<rect x="212.05" y="113.65" width="11.5" height="11.200000000000003" rx="1" fill="#000" opacity="0.42" filter="url(#b2)"/>
<rect x="212.80" y="112.10" width="10" height="1.4" rx="0.7" fill="#000" opacity="0.45" filter="url(#b3)"/>
<rect x="212.55" y="115.60" width="10.5" height="1.6" rx="0.8" fill="#000" opacity="0.3" filter="url(#b3)"/>
<rect x="212.30" y="118.00" width="11" height="3.6" rx="1" fill="#000" opacity="1.0" filter="url(#b3)"/>
<rect x="212.80" y="123.70" width="10" height="1.6" rx="0.8" fill="#000" opacity="0.45" filter="url(#b3)"/>
<rect x="235.25" y="114.45" width="11.5" height="9.700000000000003" rx="1" fill="#000" opacity="0.42" filter="url(#b2)"/>
<rect x="236.00" y="112.90" width="10" height="1.4" rx="0.7" fill="#000" opacity="0.3" filter="url(#b3)"/>
<rect x="235.75" y="116.25" width="10.5" height="1.6" rx="0.8" fill="#000" opacity="0.3" filter="url(#b3)"/>
<rect x="235.50" y="118.65" width="11" height="2.3" rx="1" fill="#000" opacity="1.0" filter="url(#b3)"/>
<rect x="236.00" y="123.00" width="10" height="1.6" rx="0.8" fill="#000" opacity="0.25" filter="url(#b3)"/>
<rect x="248.05" y="113.45" width="11.5" height="10.100000000000009" rx="1" fill="#000" opacity="0.42" filter="url(#b2)"/>
<rect x="248.80" y="111.90" width="10" height="1.4" rx="0.7" fill="#000" opacity="0.45" filter="url(#b3)"/>
<rect x="248.55" y="115.55" width="10.5" height="1.6" rx="0.8" fill="#000" opacity="0.3" filter="url(#b3)"/>
<rect x="248.30" y="117.95" width="11" height="2.1" rx="1" fill="#000" opacity="1.0" filter="url(#b3)"/>
<rect x="248.80" y="122.40" width="10" height="1.6" rx="0.8" fill="#000" opacity="0.25" filter="url(#b3)"/>
</g>
<rect x="162.6" y="110.3" width="101.50" height="19.00" fill="none" stroke="#0a0a0a" stroke-width="1.2"/>
<text class="b" transform="translate(266.2 122.5)" font-size="5.3" text-anchor="start" font-weight="bold" font-style="normal" fill="#000">CD79A</text>
<rect x="162" y="132.2" width="102.70" height="12.20" fill="#d3d3d3"/>
<rect x="162" y="132.2" width="102.70" height="12.20" filter="url(#nz)" opacity="0.08"/>
<rect x="164.30" y="139.20" width="10.6" height="2.4" rx="1" fill="#000" opacity="1.0" filter="url(#b1)"/>
<rect x="176.90" y="138.80" width="10.6" height="2.4" rx="1" fill="#000" opacity="1.0" filter="url(#b1)"/>
<rect x="199.50" y="138.30" width="10.6" height="2.4" rx="1" fill="#000" opacity="1.0" filter="url(#b1)"/>
<rect x="212.10" y="137.30" width="10.6" height="2.4" rx="1" fill="#000" opacity="1.0" filter="url(#b1)"/>
<rect x="235.30" y="136.90" width="10.6" height="2.4" rx="1" fill="#000" opacity="1.0" filter="url(#b1)"/>
<rect x="248.10" y="136.40" width="10.6" height="2.4" rx="1" fill="#000" opacity="1.0" filter="url(#b1)"/>
<rect x="162.6" y="132.79999999999998" width="101.50" height="11.00" fill="none" stroke="#0a0a0a" stroke-width="1.2"/>
<text class="b" transform="translate(266.2 141.1)" font-size="5.3" text-anchor="start" font-weight="bold" font-style="normal" fill="#000">BCL2</text>
<text class="b" transform="translate(99 226.6)" font-size="4.7" text-anchor="middle" font-weight="bold" font-style="normal" fill="#000">0h</text>
<line x1="87.4" y1="228.6" x2="109.4" y2="228.6" stroke="#3c3c3c" stroke-width="0.9" stroke-linecap="butt"/>
<text class="b" transform="translate(158.9 226.6)" font-size="4.7" text-anchor="middle" font-weight="bold" font-style="normal" fill="#000">24h</text>
<line x1="115.6" y1="228.6" x2="188.2" y2="228.6" stroke="#3c3c3c" stroke-width="0.9" stroke-linecap="butt"/>
<text class="b" transform="translate(93.3 236.9)" font-size="4.2" text-anchor="middle" font-weight="bold" font-style="normal" fill="#000">WCL</text>
<text class="b" transform="translate(104.2 236.9)" font-size="4.2" text-anchor="middle" font-weight="bold" font-style="normal" fill="#000">SP</text>
<line x1="100.6" y1="238.6" x2="108.3" y2="238.6" stroke="#3c3c3c" stroke-width="0.9" stroke-linecap="butt"/>
<text class="b" transform="translate(125.6 236.9)" font-size="4.2" text-anchor="middle" font-weight="bold" font-style="normal" fill="#000">WCL</text>
<line x1="115.6" y1="238.6" x2="131.6" y2="238.6" stroke="#3c3c3c" stroke-width="0.9" stroke-linecap="butt"/>
<text class="b" transform="translate(168.7 236.7)" font-size="4.7" text-anchor="middle" font-weight="bold" font-style="normal" fill="#000">SP</text>
<line x1="144.6" y1="238.6" x2="188.4" y2="238.6" stroke="#3c3c3c" stroke-width="0.9" stroke-linecap="butt"/>
<text class="b" transform="translate(182.9 244.2)" font-size="4.1" text-anchor="middle" font-weight="bold" font-style="normal" fill="#000">EndoH</text>
<line x1="174.8" y1="245.8" x2="190.3" y2="245.8" stroke="#3c3c3c" stroke-width="0.9" stroke-linecap="butt"/>
<text class="b" transform="translate(93.3 251)" font-size="4.0" text-anchor="middle" font-weight="bold" font-style="normal" fill="#000">NA</text>
<text class="b" transform="translate(104.5 251)" font-size="4.0" text-anchor="middle" font-weight="bold" font-style="normal" fill="#000">NA</text>
<text class="b" transform="translate(118.6 251)" font-size="4.0" text-anchor="middle" font-weight="bold" font-style="normal" fill="#000">NA</text>
<text class="b" transform="translate(129.6 251)" font-size="4.0" text-anchor="middle" font-weight="bold" font-style="normal" fill="#000">IL-4</text>
<text class="b" transform="translate(146.6 251)" font-size="4.0" text-anchor="middle" font-weight="bold" font-style="normal" fill="#000">NA</text>
<text class="b" transform="translate(157.8 251)" font-size="4.0" text-anchor="middle" font-weight="bold" font-style="normal" fill="#000">IL-4</text>
<text class="b" transform="translate(175.5 251)" font-size="4.0" text-anchor="middle" font-weight="bold" font-style="normal" fill="#000">NA</text>
<text class="b" transform="translate(187.3 251)" font-size="4.0" text-anchor="middle" font-weight="bold" font-style="normal" fill="#000">IL-4</text>
<g clip-path="url(#ce1)">
<rect x="86.1" y="253.1" width="24.60" height="19.90" fill="#bcbcbc"/>
<rect x="86.1" y="253.1" width="24.60" height="19.90" filter="url(#nz)" opacity="0.14"/>
<rect x="88.15" y="256.30" width="10.5" height="7.4" rx="1" fill="#000" opacity="0.85" filter="url(#b2)"/>
<rect x="88.60" y="257.00" width="9.6" height="2.4" rx="1" fill="#000" opacity="1.0" filter="url(#b3)"/>
<rect x="88.60" y="261.00" width="9.6" height="2.4" rx="1" fill="#000" opacity="1.0" filter="url(#b3)"/>
<rect x="100.35" y="257.70" width="8.5" height="4.6" rx="1" fill="#000" opacity="0.42" filter="url(#b2)"/>
<rect x="100.60" y="257.80" width="8" height="1.6" rx="0.8" fill="#000" opacity="0.25" filter="url(#b3)"/>
</g>
<rect x="86.69999999999999" y="253.7" width="23.40" height="18.70" fill="none" stroke="#0a0a0a" stroke-width="1.2"/>
<g clip-path="url(#ce2)">
<rect x="112.1" y="253.1" width="81.40" height="19.90" fill="#bcbcbc"/>
<rect x="112.1" y="253.1" width="81.40" height="19.90" filter="url(#nz)" opacity="0.14"/>
<rect x="114.30" y="256.10" width="9.2" height="6.6" rx="1" fill="#000" opacity="1.0" filter="url(#b2)"/>
<rect x="114.60" y="256.90" width="8.6" height="3.4" rx="1" fill="#000" opacity="1.0" filter="url(#b3)"/>
<rect x="124.50" y="256.20" width="9.6" height="7.0" rx="1" fill="#000" opacity="1.0" filter="url(#b2)"/>
<rect x="124.80" y="257.20" width="9" height="4.0" rx="1" fill="#000" opacity="1.0" filter="url(#b3)"/>
<rect x="142.70" y="256.40" width="8.8" height="5.6" rx="1" fill="#000" opacity="0.7" filter="url(#b2)"/>
<rect x="142.80" y="256.70" width="8.6" height="1.8" rx="0.9" fill="#000" opacity="0.55" filter="url(#b3)"/>
<rect x="142.80" y="259.70" width="8.6" height="1.8" rx="0.9" fill="#000" opacity="0.45" filter="url(#b3)"/>
<rect x="153.30" y="255.70" width="9.4" height="6.2" rx="1" fill="#000" opacity="0.9" filter="url(#b2)"/>
<rect x="153.50" y="255.90" width="9" height="3.0" rx="1" fill="#000" opacity="1.0" filter="url(#b3)"/>
<rect x="171.30" y="256.40" width="8.4" height="3.2" rx="1" fill="#000" opacity="0.5" filter="url(#b3)"/>
<rect x="171.30" y="266.70" width="8.4" height="3.2" rx="1" fill="#000" opacity="0.48" filter="url(#b3)"/>
<rect x="182.90" y="256.00" width="8.8" height="3.2" rx="1" fill="#000" opacity="0.95" filter="url(#b3)"/>
<rect x="183.10" y="258.25" width="8.4" height="2.5" rx="1" fill="#000" opacity="0.3" filter="url(#b2)"/>
<rect x="183.00" y="266.00" width="8.6" height="3.2" rx="1" fill="#000" opacity="0.58" filter="url(#b3)"/>
</g>
<rect x="112.69999999999999" y="253.7" width="80.20" height="18.70" fill="none" stroke="#0a0a0a" stroke-width="1.2"/>
<circle cx="81.2" cy="256.9" r="1.0" fill="#000"/>
<circle cx="77.8" cy="262.3" r="1.0" fill="#000"/>
<circle cx="81.2" cy="262.3" r="1.0" fill="#000"/>
<line x1="83.3" y1="256.9" x2="87" y2="256.9" stroke="#000" stroke-width="1.1"/>
<polygon points="85.8,255.2 89.4,256.9 85.8,258.59999999999997" fill="#000"/>
<line x1="83.3" y1="262.3" x2="87" y2="262.3" stroke="#000" stroke-width="1.1"/>
<polygon points="85.8,260.6 89.4,262.3 85.8,264.0" fill="#000"/>
<text class="b" transform="translate(200 264.6)" font-size="5.2" text-anchor="start" font-weight="bold" font-style="normal" fill="#000">IgM</text>
<text transform="translate(93.3 277.8)" font-size="3.8" text-anchor="middle" font-weight="bold" font-style="normal" fill="#000">0.9</text>
<text transform="translate(104.5 277.8)" font-size="3.8" text-anchor="middle" font-weight="bold" font-style="normal" fill="#000">1.2</text>
<text transform="translate(118.6 277.8)" font-size="3.8" text-anchor="middle" font-weight="bold" font-style="normal" fill="#000">0.9</text>
<text transform="translate(129.6 277.8)" font-size="3.8" text-anchor="middle" font-weight="bold" font-style="normal" fill="#000">1.0</text>
<text transform="translate(146.6 277.8)" font-size="3.8" text-anchor="middle" font-weight="bold" font-style="normal" fill="#000">1.1</text>
<text transform="translate(157.8 277.8)" font-size="3.8" text-anchor="middle" font-weight="bold" font-style="normal" fill="#000">1.4</text>
<text transform="translate(175.5 277.8)" font-size="3.8" text-anchor="middle" font-weight="bold" font-style="normal" fill="#000">2.4</text>
<text transform="translate(187.3 277.8)" font-size="3.8" text-anchor="middle" font-weight="bold" font-style="normal" fill="#000">3.1</text>
<text class="b" transform="translate(194.2 277.7)" font-size="4.35" text-anchor="start" font-weight="bold" font-style="normal" fill="#000">Ratio Mature/</text>
<text class="b" transform="translate(194.2 283.8)" font-size="4.3" text-anchor="start" font-weight="bold" font-style="normal" fill="#000">Immature IgM</text>
</g>
<rect x="0" y="0" width="520" height="1" fill="#0c0c0c"/><rect x="0" y="0" width="1" height="348" fill="#0c0c0c"/><rect x="518.85" y="0" width="1.15" height="348" fill="#0c0c0c"/><rect x="0" y="346.6" width="520" height="1.4" fill="#0c0c0c"/>
</svg>
</body></html>
